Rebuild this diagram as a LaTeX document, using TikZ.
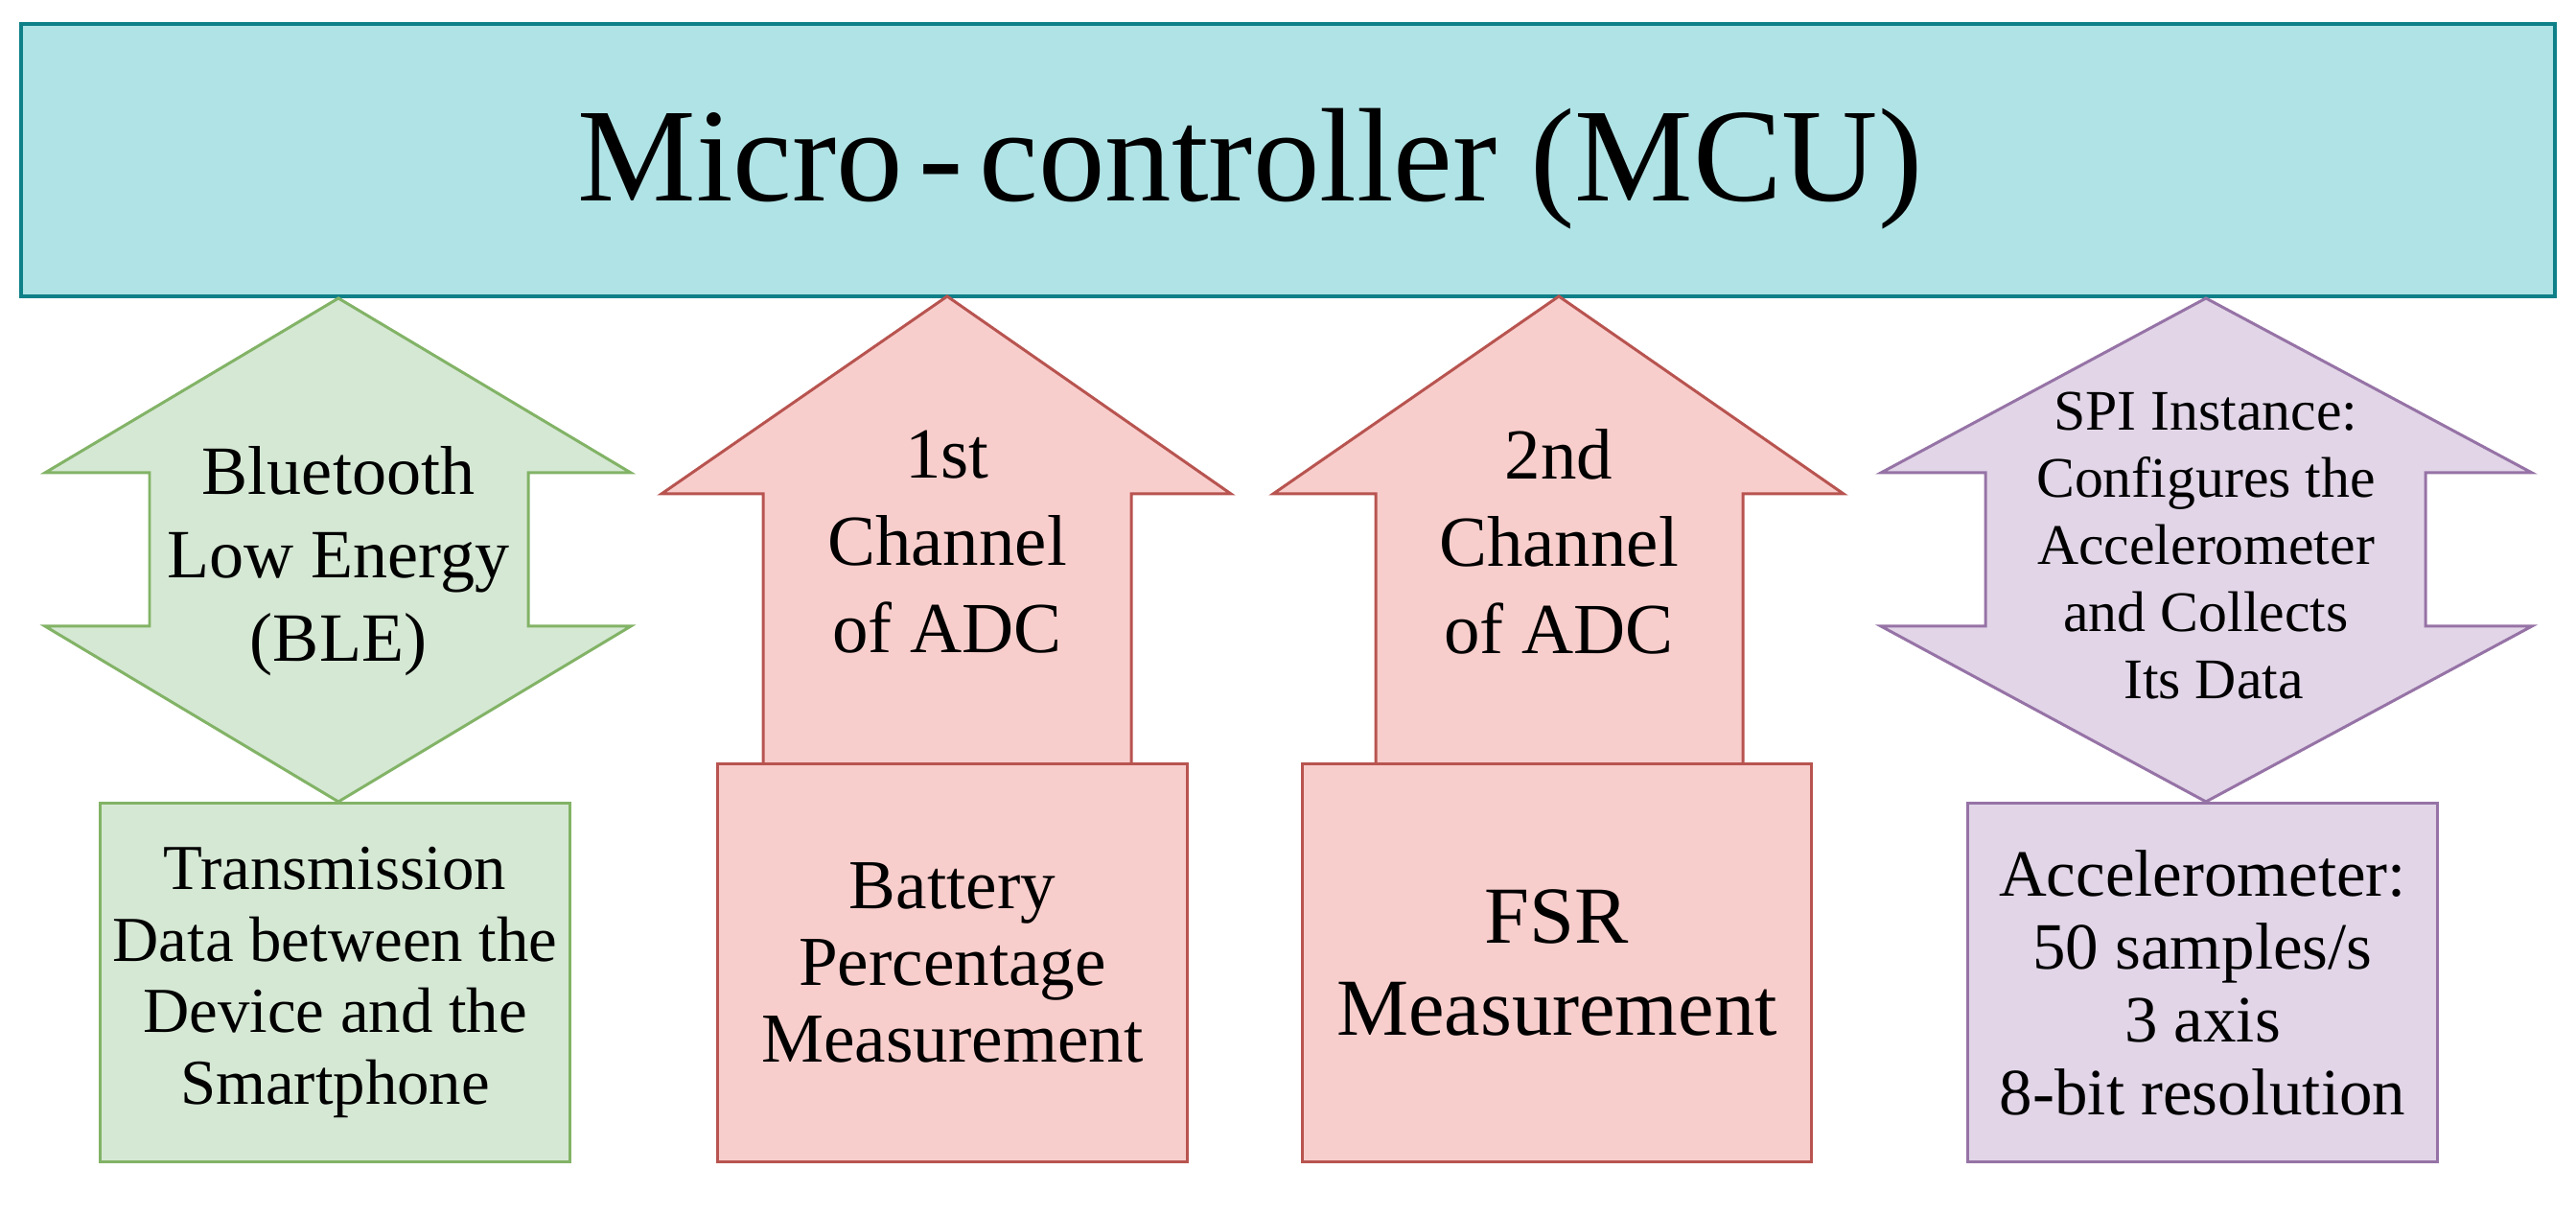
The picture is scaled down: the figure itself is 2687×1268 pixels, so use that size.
\documentclass[tikz,border=0pt]{standalone}
\usepackage{fontspec}
\setmainfont{Liberation Serif}
\definecolor{mcufill}{HTML}{B0E3E6}
\definecolor{mcudraw}{HTML}{0E8088}
\definecolor{gfill}{HTML}{D5E8D4}
\definecolor{gdraw}{HTML}{82B366}
\definecolor{rfill}{HTML}{F8CECC}
\definecolor{rdraw}{HTML}{B85450}
\definecolor{pfill}{HTML}{E1D5E7}
\definecolor{pdraw}{HTML}{9673A6}
\begin{document}
\begin{tikzpicture}[x=0.01cm,y=-0.01cm,
  greenshape/.style={fill=gfill,draw=gdraw,line width=0.85pt},
  redshape/.style={fill=rfill,draw=rdraw,line width=0.85pt},
  purpleshape/.style={fill=pfill,draw=pdraw,line width=0.85pt},
  boxnode/.style={rectangle,inner sep=0pt,align=center,text=black},
  label/.style={inner sep=0pt,align=center,text=black}]
\useasboundingbox (0,0) rectangle (2687,1268);

% Micro-controller box
\node[boxnode,fill=mcufill,draw=mcudraw,line width=1.1pt,minimum width=26.41cm,minimum height=2.84cm] (mcu) at (1343.5,167) {};
\node[label,anchor=base,font=\fontsize{39.5pt}{47pt}\selectfont] (mcutext) at (1304,210) {Micro\kern0.12em-\kern0.12em controller (MCU)};

% Green double arrow (BLE)
\draw[greenshape] (353,311) -- (658,493) -- (551,493) -- (551,653) -- (658,653) -- (353,836)
  -- (47,653) -- (156,653) -- (156,493) -- (47,493) -- cycle;
\node[label,font=\fontsize{20.5pt}{24.8pt}\selectfont] (bletext) at (353,585) {Bluetooth\\Low Energy\\(BLE)};

% Red arrow 1
\draw[redshape] (988,309) -- (1284,515) -- (1180,515) -- (1180,797) -- (796,797) -- (796,515) -- (690,515) -- cycle;
\node[label,font=\fontsize{21.3pt}{25.9pt}\selectfont] (adc1text) at (988,565) {1st\\Channel\\of ADC};

% Red arrow 2
\draw[redshape] (1626,309) -- (1923,515) -- (1818,515) -- (1818,797) -- (1435,797) -- (1435,515) -- (1328,515) -- cycle;
\node[label,font=\fontsize{21.3pt}{25.9pt}\selectfont] (adc2text) at (1626,565) {2nd\\Channel\\of ADC};

% Purple double arrow (SPI)
\draw[purpleshape] (2301,311) -- (2641,493) -- (2530,493) -- (2530,653) -- (2641,653) -- (2301,836)
  -- (1962,653) -- (2071,653) -- (2071,493) -- (1962,493) -- cycle;
\node[label,font=\fontsize{17pt}{19.9pt}\selectfont] (spitext) at (2301,569) {SPI Instance:\\Configures the\\Accelerometer\\and Collects\hspace*{0.3cm}\\\hspace*{0.16cm}Its Data};

% Bottom boxes
\node[boxnode,greenshape,minimum width=4.89cm,minimum height=3.73cm,font=\fontsize{19pt}{21.3pt}\selectfont] (trans) at (349.5,1024.5)
  {Transmission\\Data between the\\Device and the\\Smartphone};
\node[boxnode,redshape,minimum width=4.89cm,minimum height=4.14cm,font=\fontsize{20.8pt}{22.8pt}\selectfont] (batt) at (993.5,1004)
  {Battery\\Percentage\\Measurement};
\node[boxnode,redshape,minimum width=5.30cm,minimum height=4.14cm,font=\fontsize{24pt}{27.3pt}\selectfont] (fsr) at (1624,1004)
  {FSR\\Measurement};
\node[boxnode,purpleshape,minimum width=4.89cm,minimum height=3.73cm,font=\fontsize{19.6pt}{21.6pt}\selectfont] (accel) at (2297.5,1024.5)
  {Accelerometer:\\50 samples/s\\3 axis\\8-bit resolution};
\end{tikzpicture}
\end{document}
